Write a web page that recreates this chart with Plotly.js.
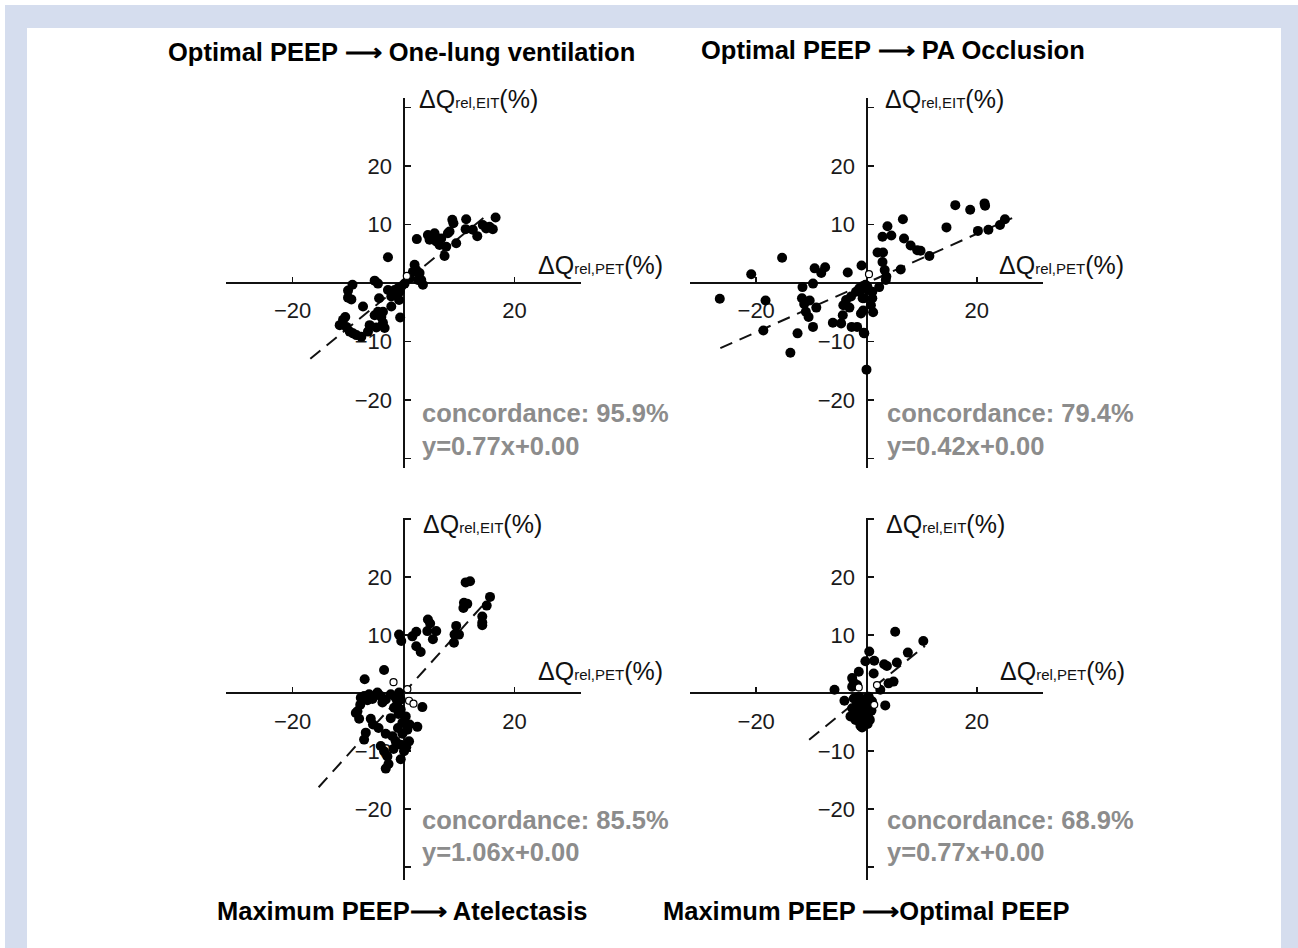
<!DOCTYPE html>
<html>
<head>
<meta charset="utf-8">
<script src="https://cdn.plot.ly/plotly-3.0.1.min.js"></script>
<style>html,body{margin:0;padding:0;background:#fff;}#chart{width:1298px;height:948px;}</style>
</head>
<body>
<div id="chart"></div>
<script>
// ---------------- DATA ----------------
const panelTitles = [
  "Optimal PEEP \u27F6 One-lung ventilation",
  "Optimal PEEP \u27F6 PA Occlusion",
  "Maximum PEEP\u27F6 Atelectasis",
  "Maximum PEEP \u27F6Optimal PEEP"
];
const concordance = ["concordance: 95.9%", "concordance: 79.4%", "concordance: 85.5%", "concordance: 68.9%"];
const equations = ["y=0.77x+0.00", "y=0.42x+0.00", "y=1.06x+0.00", "y=0.77x+0.00"];
const slopes = [0.77, 0.42, 1.06, 0.77];
const fitX = [[-16.8, 14.9], [-26.5, 26.4], [-15.3, 15.6], [-10.4, 10.6]];

const xTickVals = [-20, 20];
const xTickText = ["\u221220", "20"];
const yTickVals = [-30, -20, -10, 10, 20, 30];
const yTickText = ["", "\u221220", "\u221210", "10", "20", ""];

// Panel 1: One-lung ventilation
const p1x = [2.4,4.4,5.0,5.6,4.7,5.9,6.5,6.8,8.0,8.3,7.4,7.7,9.5,8.8,9.0,11.3,11.2,12.5,13.3,14.3,15.5,16.1,16.6,14.9,
  -2.8,2.0,2.3,1.7,2.9,3.2,3.5,2.6,1.1,0.2,-0.4,-1.0,-1.6,-0.7,-1.3,-2.2,-2.8,-0.8,-0.6,-2.2,-5.2,-4.6,
  -9.2,-10.0,-9.4,-10.0,-7.3,-4.4,-4.6,-5.2,-3.7,-4.0,-3.7,-3.4,-4.9,-6.1,-10.5,-10.9,-11.5,-10.3,-9.7,-8.5,-7.6,-9.1,-6.4];
const p1y = [7.5,8.2,7.9,8.5,7.4,7.1,6.5,7.6,8.5,8.8,4.6,6.2,6.8,10.8,10.2,10.9,9.2,9.1,8.0,9.9,9.6,9.2,11.2,9.3,
  4.4,3.1,2.2,1.9,1.7,0.5,-0.3,0.5,0.8,-0.1,-0.6,-0.9,-1.2,-1.5,-2.1,-2.3,-1.2,-2.9,-5.9,-4.0,0.4,-0.1,
  -0.3,-1.3,-2.8,-2.5,-4.0,-2.6,-4.9,-5.5,-4.9,-5.8,-6.8,-7.7,-7.6,-7.2,-5.8,-6.3,-7.2,-7.5,-8.3,-8.9,-9.2,-8.6,-8.3];
const p1ox = [0.6];
const p1oy = [1.2];

// Panel 2: PA Occlusion
const p2x = [-26.6,-20.9,-18.3,-18.7,-15.3,-13.8,-12.5,-11.6,-9.7,-11.7,-11.3,-10.3,-11.0,-10.5,-9.7,-9.1,-9.4,-8.2,-7.5,
  -3.4,-0.9,-3.7,-4.2,-3.1,-2.8,-4.3,-6.1,-4.6,-2.7,-1.7,-1.0,-0.6,-0.4,0.0,-0.7,-1.3,-0.7,-1.9,
  3.8,2.9,4.5,6.6,6.8,8.0,9.2,9.8,11.4,6.2,2.0,3.0,2.9,3.3,3.6,3.5,2.3,14.5,16.1,18.8,21.4,21.5,20.2,22.1,24.2,25.1,
  -0.75,0.15,1.05,-0.45,1.05,-1.05,0.3,-0.2,0.8,1.2,-0.5];
const p2y = [-2.7,1.5,-3.0,-8.1,4.3,-11.9,-8.6,-0.7,-0.1,-2.6,-3.6,-3.0,-4.9,-5.8,-7.5,-4.2,2.5,1.7,2.7,
  1.8,3.0,-2.9,-3.8,-4.2,-2.3,-5.5,-6.8,-6.9,-7.5,-7.5,-5.2,-4.7,-8.6,-14.8,-2.6,-0.9,-0.6,-1.5,
  9.7,7.9,8.1,10.9,7.6,6.4,5.6,5.5,4.6,2.3,5.2,5.2,3.6,2.2,1.1,0.5,-0.7,9.5,13.3,12.5,13.6,13.2,8.9,9.1,9.9,10.9,
  -0.6,-0.6,-1.5,-2.6,-2.6,-1.2,-1.2,-0.3,-3.8,-5.0,-8.5];
const p2ox = [0.45];
const p2oy = [1.5];

// Panel 3: Atelectasis
const p3x = [11.2,12.0,10.9,11.5,10.8,15.6,15.0,14.2,14.2,14.2,9.5,9.2,10.0,9.1,4.4,4.8,4.3,5.9,5.3,2.3,1.6,-0.8,-0.4,2.3,3.1,
  -3.5,-7.0,-7.7,-7.1,-6.2,-5.6,-4.7,-4.1,-3.2,-2.3,-1.4,-0.8,-0.5,-1.1,-1.7,-0.5,3.4,
  -8.3,-8.6,-8.0,-5.9,-5.5,-6.8,-7.1,-3.2,-2.3,-2.0,-1.4,-0.5,0.7,1.1,2.5,1.0,0.1,-0.5,-3.5,-2.9,-3.2,-4.1,0.4,-0.2,
  -6.5,-7.8,-4.5,-1.0,-0.2,-1.8,0.5,-2.7,-3.8,-0.9];
const p3y = [19.1,19.3,15.6,15.4,14.7,16.6,15.1,13.2,12.2,11.7,11.6,10.1,10.1,8.7,12.7,12.0,10.7,10.7,9.3,10.6,9.8,10.1,9.0,8.1,7.1,
  4.0,2.4,-0.8,-0.5,-0.2,-1.0,0.1,-0.5,-1.1,-0.2,-0.8,0.1,-1.1,-1.7,-2.5,-2.8,-2.4,
  -3.1,-3.4,-4.4,-4.4,-5.4,-6.8,-8.0,-7.0,-4.3,-7.4,-8.3,-8.9,-6.3,-5.4,-5.8,-8.3,-10.0,-11.4,-10.0,-10.9,-13.0,-9.1,-4.0,-5.1,
  -1.2,-2.0,-6.0,-6.0,-7.0,-9.6,-9.3,-12.2,-1.6,-3.6];
const p3ox = [-1.8, 0.7, 1.0, 1.8];
const p3oy = [1.9, 0.7, -1.3, -1.8];

// Panel 4: Optimal PEEP
const p4x = [5.2,10.3,7.5,0.5,-0.2,1.4,3.2,3.7,5.5,1.3,-1.4,-2.6,-2.3,-2.6,-1.7,-5.8,-4.0,3.4,4.9,2.5,4.0,
  -2.6,-2.9,-2.0,-1.1,-0.8,-0.2,0.4,-0.5,-1.4,0.4,-0.8,-1.7,0.1,-2.3,1.0,
  -1.0,-0.3,0.2,-0.6,-1.5,0.6,-0.9,0.2,-0.8,-1.9,0.9];
const p4y = [10.6,9.0,7.0,7.2,5.5,5.6,5.0,4.7,5.3,3.4,3.7,2.6,1.8,1.1,1.4,0.6,-1.3,-2.1,2.0,0.6,1.7,
  -2.6,-4.0,-4.6,-5.6,-3.4,-2.9,-3.4,-1.1,-0.6,-0.6,-2.0,-3.2,-4.3,-0.9,-1.4,
  -1.5,-1.8,-2.3,-3.8,-4.2,-4.6,-5.0,-5.3,-5.9,-2.2,-3.0];
const p4ox = [-1.4, 1.9, 1.4];
const p4oy = [1.0, 1.4, -2.0];

const filledX = [p1x, p2x, p3x, p4x];
const filledY = [p1y, p2y, p3y, p4y];
const openX = [p1ox, p2ox, p3ox, p4ox];
const openY = [p1oy, p2oy, p3oy, p4oy];

// ---------------- LAYOUT (pixel geometry) ----------------
const W = 1298, H = 948;
const PX = v => v / W;
const PY = v => 1 - v / H;
const FONT = "Liberation Sans, Arial, Helvetica, sans-serif";

const geom = [
  {xd: [226, 581], yd: [98, 468], xr: [-32, 32], yr: [-31.6, 31.6]},
  {xd: [690, 1043], yd: [98, 468], xr: [-32, 32], yr: [-31.6, 31.6]},
  {xd: [226, 581], yd: [518, 880], xr: [-32, 32], yr: [-32.2, 30.2]},
  {xd: [690, 1043], yd: [518, 880], xr: [-32, 32], yr: [-32.2, 30.2]}
];
const titlePos = [[401, 52], [893, 50], [402, 911], [866, 911]];
const yLabPos = [[417, 99], [883, 99], [421, 524], [884, 524]];
const xLabPos = [[665, 265], [1126, 265], [665, 671], [1127, 671]];
const concPos = [[420, 413, 446], [885, 413, 446], [420, 820, 852], [885, 820, 852]];

const traces = [];
const layout = {
  width: W, height: H,
  margin: {l: 0, r: 0, t: 0, b: 0},
  paper_bgcolor: "#ffffff",
  plot_bgcolor: "rgba(0,0,0,0)",
  showlegend: false,
  font: {family: FONT, color: "#111"},
  shapes: [
    {type: "rect", xref: "paper", yref: "paper", x0: PX(5), x1: 1, y0: 0, y1: PY(5),
     fillcolor: "#d5ddee", line: {width: 0}, layer: "below"},
    {type: "rect", xref: "paper", yref: "paper", x0: PX(27), x1: PX(1281), y0: 0, y1: PY(28),
     fillcolor: "#ffffff", line: {width: 0}, layer: "below"}
  ],
  annotations: []
};

geom.forEach((g, i) => {
  const n = i + 1;
  const xa = "x" + (n === 1 ? "" : n);
  const ya = "y" + (n === 1 ? "" : n);
  const ox = g.xd[0] + (0 - g.xr[0]) / (g.xr[1] - g.xr[0]) * (g.xd[1] - g.xd[0]);
  const oy = g.yd[1] - (0 - g.yr[0]) / (g.yr[1] - g.yr[0]) * (g.yd[1] - g.yd[0]);

  layout["xaxis" + (n === 1 ? "" : n)] = {
    domain: [PX(g.xd[0]), PX(g.xd[1])], range: g.xr, anchor: "free", position: PY(oy),
    showgrid: false, zeroline: false, showline: true, linecolor: "#111", linewidth: 2,
    ticks: "inside", ticklen: 5, tickwidth: 1.6, tickcolor: "#111",
    tickvals: xTickVals, ticktext: xTickText, ticklabelstandoff: 8,
    tickfont: {family: FONT, size: 22, color: "#1a1a1a"}, layer: "below traces", fixedrange: true
  };
  layout["yaxis" + (n === 1 ? "" : n)] = {
    domain: [PY(g.yd[1]), PY(g.yd[0])], range: g.yr, anchor: "free", position: PX(ox),
    showgrid: false, zeroline: false, showline: true, linecolor: "#111", linewidth: 2,
    ticks: "inside", ticklen: 6, tickwidth: 1.6, tickcolor: "#111",
    tickvals: yTickVals, ticktext: yTickText, ticklabelstandoff: 6,
    tickfont: {family: FONT, size: 22, color: "#1a1a1a"}, layer: "below traces", fixedrange: true
  };

  traces.push({
    type: "scatter", mode: "lines", xaxis: xa, yaxis: ya,
    x: fitX[i], y: fitX[i].map(v => slopes[i] * v),
    line: {color: "#111", width: 2, dash: "13px,8px"}, hoverinfo: "skip"
  });
  traces.push({
    type: "scatter", mode: "markers", xaxis: xa, yaxis: ya,
    x: filledX[i], y: filledY[i],
    marker: {color: "#000", size: 10, line: {width: 0}}
  });
  traces.push({
    type: "scatter", mode: "markers", xaxis: xa, yaxis: ya,
    x: openX[i], y: openY[i],
    marker: {color: "#fff", size: 7, line: {color: "#000", width: 1.2}}
  });

  layout.annotations.push({
    xref: "paper", yref: "paper", x: PX(titlePos[i][0]), y: PY(titlePos[i][1]),
    xanchor: "center", yanchor: "middle", showarrow: false,
    text: "<b>" + panelTitles[i] + "</b>", font: {family: FONT, size: 25.5, color: "#000"}
  });
  layout.annotations.push({
    xref: "paper", yref: "paper", x: PX(yLabPos[i][0]), y: PY(yLabPos[i][1]),
    xanchor: "left", yanchor: "middle", showarrow: false,
    text: 'ΔQ<span style="font-size:15px">rel,EIT</span>(%)', font: {family: FONT, size: 25, color: "#111"}
  });
  layout.annotations.push({
    xref: "paper", yref: "paper", x: PX(xLabPos[i][0]), y: PY(xLabPos[i][1]),
    xanchor: "right", yanchor: "middle", showarrow: false,
    text: 'ΔQ<span style="font-size:15px">rel,PET</span>(%)', font: {family: FONT, size: 25, color: "#111"}
  });
  layout.annotations.push({
    xref: "paper", yref: "paper", x: PX(concPos[i][0]), y: PY(concPos[i][1]),
    xanchor: "left", yanchor: "middle", showarrow: false,
    text: "<b>" + concordance[i] + "</b>", font: {family: FONT, size: 25.5, color: "#8c8c8c"}
  });
  layout.annotations.push({
    xref: "paper", yref: "paper", x: PX(concPos[i][0]), y: PY(concPos[i][2]),
    xanchor: "left", yanchor: "middle", showarrow: false,
    text: "<b>" + equations[i] + "</b>", font: {family: FONT, size: 25.5, color: "#8c8c8c"}
  });
});

Plotly.newPlot("chart", traces, layout, {staticPlot: true, displayModeBar: false});
</script>
</body>
</html>
